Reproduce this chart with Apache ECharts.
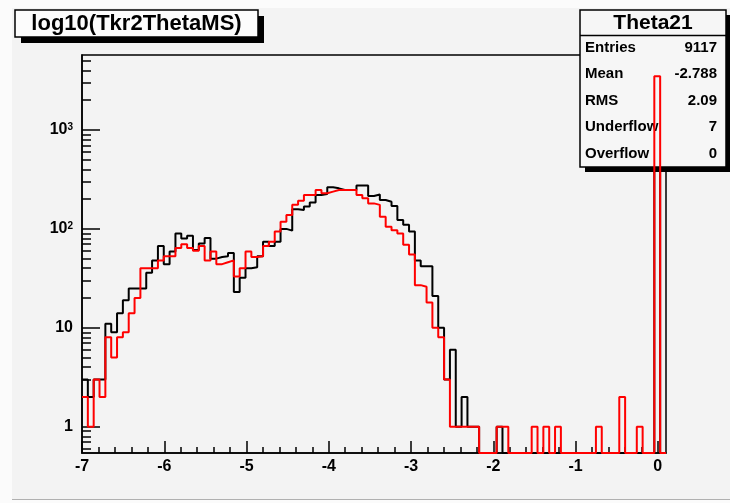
<!DOCTYPE html>
<html><head><meta charset="utf-8">
<script src="https://cdn.jsdelivr.net/npm/echarts@6/dist/echarts.min.js"></script>
<style>html,body{margin:0;padding:0;background:#fbfbfb}#c{width:730px;height:503px}</style>
</head><body><div id="c"></div>
<script>
const binCount = 100;
const xRange = [-7, 0.1];
const yRange = [0.542, 5730];

const blackCounts = [
  3,2,3,3,11,9,14,19,25,25,
  25,36,48,67,44,59,90,80,85,61,
  71,81,50,52,53,57,23,32,40,41,
  53,74,67,74,100,96,158,155,168,185,
  220,225,263,257,247,247,247,274,274,215,
  223,196,188,170,123,110,94,48,42,42,
  21,10,3,6,1,2,1,1,0,0,
  0,1,0,0,0,0,0,0,0,0,
  0,0,0,0,0,0,0,0,0,0,
  0,0,0,0,0,0,0,0,3000,0
];
const redCounts = [
  2,1,3,2,8,5,8,9,14,20,
  40,40,40,48,53,53,64,70,64,60,
  67,48,59,44,46,48,33,40,59,52,
  53,67,74,94,118,138,175,193,220,220,
  247,229,238,247,247,247,247,220,204,181,
  175,133,105,97,90,69,55,27,26,18,
  10,8,3,1,1,1,1,1,0,0,
  0,1,1,0,0,0,0,1,0,1,
  0,1,0,0,0,0,0,0,1,0,
  0,0,2,0,0,1,0,0,3500,0
];

const xMajorTicks = [-7,-6,-5,-4,-3,-2,-1,0];
const xMinorTicks = [-6.8,-6.6,-6.4,-6.2,-5.8,-5.6,-5.4,-5.2,-4.8,-4.6,-4.4,-4.2,
  -3.8,-3.6,-3.4,-3.2,-2.8,-2.6,-2.4,-2.2,-1.8,-1.6,-1.4,-1.2,-0.8,-0.6,-0.4,-0.2];
const yMajorTicks = [1,10,100,1000];
const yMajorLabels = ['1','10','10{s|2}','10{s|3}'];
const yMinorTicks = [0.6,0.7,0.8,0.9,2,3,4,5,6,7,8,9,20,30,40,50,60,70,80,90,
  200,300,400,500,600,700,800,900,2000,3000,4000,5000];

const histTitle = 'log10(Tkr2ThetaMS)';
const statsTitle = 'Theta21';
const statsLabels = ['Entries','Mean','RMS','Underflow','Overflow'];
const statsValues = ['9117','-2.788','2.09','7','0'];

const FF = '"Liberation Sans", Arial, Helvetica, sans-serif';

function histPoints(counts){
  const w = (xRange[1]-xRange[0])/binCount;
  const pts = [];
  counts.forEach((c,i)=>pts.push([xRange[0]+i*w, c>0?c:yRange[0]]));
  const last = counts[counts.length-1];
  pts.push([xRange[1], last>0?last:yRange[0]]);
  return pts;
}

const axisColor = '#000';
const tickStyle = {color: axisColor, width: 1.5};

const graphics = [];
graphics.push({type:'rect', shape:{x:0,y:0,width:730,height:8}, style:{fill:'#fbfbfb'}, z:0, silent:true});
graphics.push({type:'rect', shape:{x:0,y:0,width:12,height:503}, style:{fill:'#fbfbfb'}, z:0, silent:true});
graphics.push({type:'rect', shape:{x:0,y:500,width:730,height:3}, style:{fill:'#fbfbfb'}, z:0, silent:true});
graphics.push({type:'line', shape:{x1:12,y1:499.5,x2:730,y2:499.5}, style:{stroke:'#b0b0b0', lineWidth:1}, z:0, silent:true});
// title box
graphics.push({type:'rect', shape:{x:21,y:16,width:243,height:27}, style:{fill:'#000'}, z:20});
graphics.push({type:'rect', shape:{x:15,y:10,width:243,height:27}, style:{fill:'#fcfcfc', stroke:'#000', lineWidth:1.5}, z:21});
graphics.push({type:'text', x:136.5, y:24, style:{text:histTitle, font:'bold 22px '+FF, fill:'#000', align:'center', verticalAlign:'middle', textAlign:'center', textVerticalAlign:'middle'}, z:22});
// stats box
graphics.push({type:'rect', shape:{x:585,y:15,width:146,height:157}, style:{fill:'#000'}, z:20});
graphics.push({type:'rect', shape:{x:580,y:10,width:146,height:157}, style:{fill:'#f6f6f6', stroke:'#000', lineWidth:1.5}, z:21});
graphics.push({type:'line', shape:{x1:580,y1:35.5,x2:726,y2:35.5}, style:{stroke:'#000', lineWidth:1.5}, z:22});
graphics.push({type:'text', x:653, y:23, style:{text:statsTitle, font:'bold 21px '+FF, fill:'#000', align:'center', verticalAlign:'middle', textAlign:'center', textVerticalAlign:'middle'}, z:22});
statsLabels.forEach((lab,i)=>{
  const yy = 47.8 + i*26.4;
  graphics.push({type:'text', x:585, y:yy, style:{text:lab, font:'bold 15px '+FF, fill:'#000', align:'left', verticalAlign:'middle', textAlign:'left', textVerticalAlign:'middle'}, z:22});
  graphics.push({type:'text', x:717, y:yy, style:{text:statsValues[i], font:'bold 15px '+FF, fill:'#000', align:'right', verticalAlign:'middle', textAlign:'right', textVerticalAlign:'middle'}, z:22});
});

const option = {
  animation: false,
  backgroundColor: '#f3f3f3',
  grid: {left:82, right:64, top:55, bottom:50, show:true, borderColor:'#000', borderWidth:1.5, backgroundColor:'transparent', containLabel:false},
  xAxis: [
    {type:'value', min:xRange[0], max:xRange[1], position:'bottom',
     axisLine:{show:true, onZero:false, lineStyle:{color:axisColor, width:1.5}},
     axisTick:{show:true, inside:true, length:12, customValues:xMajorTicks, lineStyle:tickStyle},
     axisLabel:{customValues:xMajorTicks, margin:6, color:'#000', fontSize:16, fontWeight:'bold', fontFamily:FF},
     splitLine:{show:false}},
    {type:'value', min:xRange[0], max:xRange[1], position:'bottom',
     axisLine:{show:false, onZero:false},
     axisTick:{show:true, inside:true, length:6, customValues:xMinorTicks, lineStyle:tickStyle},
     axisLabel:{show:false}, splitLine:{show:false}}
  ],
  yAxis: [
    {type:'log', logBase:10, min:yRange[0], max:yRange[1], position:'left',
     axisLine:{show:true, onZero:false, lineStyle:{color:axisColor, width:1.5}},
     axisTick:{show:true, inside:true, length:18, customValues:yMajorTicks, lineStyle:tickStyle},
     axisLabel:{customValues:yMajorTicks, margin:9, color:'#000', fontSize:16, fontWeight:'bold', fontFamily:FF,
       formatter:(v)=>{const i=yMajorTicks.indexOf(v); return i>=0?yMajorLabels[i]:String(v);},
       rich:{s:{fontSize:10, fontWeight:'bold', fontFamily:FF, color:'#000', verticalAlign:'top', padding:[0,0,6,0]}}},
     splitLine:{show:false}},
    {type:'log', logBase:10, min:yRange[0], max:yRange[1], position:'left',
     axisLine:{show:false, onZero:false},
     axisTick:{show:true, inside:true, length:9, customValues:yMinorTicks, lineStyle:tickStyle},
     axisLabel:{show:false}, splitLine:{show:false}}
  ],
  series: [
    {type:'line', name:'Theta21', xAxisIndex:0, yAxisIndex:0, step:'end', data:histPoints(blackCounts),
     symbol:'none', lineStyle:{color:'#000', width:2}, z:10, silent:true},
    {type:'line', name:'red', xAxisIndex:0, yAxisIndex:0, step:'end', data:histPoints(redCounts),
     symbol:'none', lineStyle:{color:'#ff0000', width:2}, z:30, silent:true}
  ],
  graphic: {elements: graphics}
};
const chart = echarts.init(document.getElementById('c'));
chart.setOption(option);
</script></body></html>
